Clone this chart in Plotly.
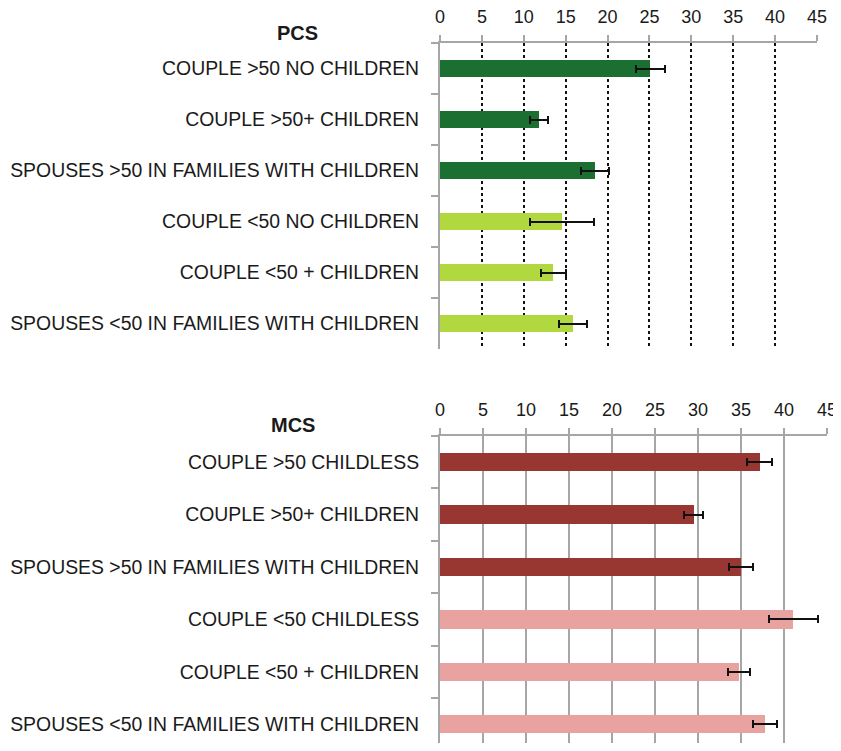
import plotly.graph_objects as go

pcs_categories = ["COUPLE >50 NO CHILDREN", "COUPLE >50+ CHILDREN",
                  "SPOUSES >50 IN FAMILIES WITH CHILDREN", "COUPLE <50 NO CHILDREN",
                  "COUPLE <50 + CHILDREN", "SPOUSES <50 IN FAMILIES WITH CHILDREN"]
pcs_values = [25.1, 11.8, 18.5, 14.6, 13.5, 15.9]
pcs_errors = [1.75, 1.1, 1.7, 3.8, 1.5, 1.7]
pcs_colors = ["#1a6f31", "#1a6f31", "#1a6f31", "#b1d93f", "#b1d93f", "#b1d93f"]

mcs_categories = ["COUPLE >50 CHILDLESS", "COUPLE >50+ CHILDREN",
                  "SPOUSES >50 IN FAMILIES WITH CHILDREN", "COUPLE <50 CHILDLESS",
                  "COUPLE <50 + CHILDREN", "SPOUSES <50 IN FAMILIES WITH CHILDREN"]
mcs_values = [37.2, 29.5, 35.0, 41.1, 34.8, 37.8]
mcs_errors = [1.45, 1.1, 1.45, 2.9, 1.3, 1.35]
mcs_colors = ["#983632", "#983632", "#983632", "#e8a2a0", "#e8a2a0", "#e8a2a0"]

tick_vals = list(range(0, 50, 5))

FONT = "Liberation Sans, Arial, sans-serif"
TXT = "#1a1a1a"

# page has an 8px body margin; figure coordinates = target page px - 8
OFF = 8
W = 841 - OFF
H = 751 - 2 * OFF


def px(xp):
    return (xp - OFF) / W


def py(yp):
    return 1 - (yp - OFF) / H


fig = go.Figure()
fig.add_trace(go.Bar(
    x=pcs_values, y=pcs_categories, orientation="h", width=0.35,
    marker=dict(color=pcs_colors, line=dict(width=0)),
    error_x=dict(type="data", array=pcs_errors, color="#111111", thickness=2, width=4),
    xaxis="x", yaxis="y", showlegend=False))
fig.add_trace(go.Bar(
    x=mcs_values, y=mcs_categories, orientation="h", width=0.35,
    marker=dict(color=mcs_colors, line=dict(width=0)),
    error_x=dict(type="data", array=mcs_errors, color="#111111", thickness=2, width=4),
    xaxis="x2", yaxis="y2", showlegend=False))

common_x = dict(range=[0, 45], tickvals=tick_vals, side="top", showline=True,
                linecolor="#a6a6a6", linewidth=2, zeroline=False, automargin=False,
                ticks="outside", ticklen=6, tickcolor="#a6a6a6", tickwidth=1.5,
                ticklabelstandoff=5, ticklabeloverflow="allow",
                tickfont=dict(family=FONT, size=18, color=TXT), fixedrange=True)
common_y = dict(showline=True, linecolor="#a6a6a6", linewidth=2, automargin=False,
                ticks="outside", tickson="boundaries", ticklen=7, tickcolor="#a6a6a6",
                tickwidth=1.5, showgrid=False, ticklabelstandoff=15,
                tickfont=dict(family=FONT, size=19.4, color=TXT), fixedrange=True)

# bottom panel is cut by the window: categories span 436..750.4 px
bot_top = 436
bot_step = (750.4 - 436) / 6
bot_visible_end = H + OFF
bot_range_end = -0.5 + (bot_visible_end - bot_top) / bot_step

fig.update_layout(
    width=W, height=H, margin=dict(l=0, r=0, t=0, b=0),
    paper_bgcolor="white", plot_bgcolor="white", bargap=0,
    xaxis=dict(domain=[px(440), px(817)], anchor="y", showgrid=True,
               gridcolor="#111111", griddash="dot", gridwidth=1.5, **common_x),
    yaxis=dict(domain=[py(349), py(43)], anchor="x", autorange="reversed", **common_y),
    xaxis2=dict(domain=[px(440), px(827)], anchor="y2", showgrid=True,
                gridcolor="#a6a6a6", gridwidth=2, **common_x),
    yaxis2=dict(domain=[0, py(bot_top)], anchor="x2", range=[bot_range_end, -0.5],
                **common_y),
    annotations=[
        dict(text="<b>PCS</b>", x=px(297.5), y=py(33), xref="paper", yref="paper",
             xanchor="center", yanchor="middle",
             showarrow=False, font=dict(family=FONT, size=20, color=TXT)),
        dict(text="<b>MCS</b>", x=px(293), y=py(425), xref="paper", yref="paper",
             xanchor="center", yanchor="middle",
             showarrow=False, font=dict(family=FONT, size=20, color=TXT)),
    ],
)

fig.write_html("out.html")
